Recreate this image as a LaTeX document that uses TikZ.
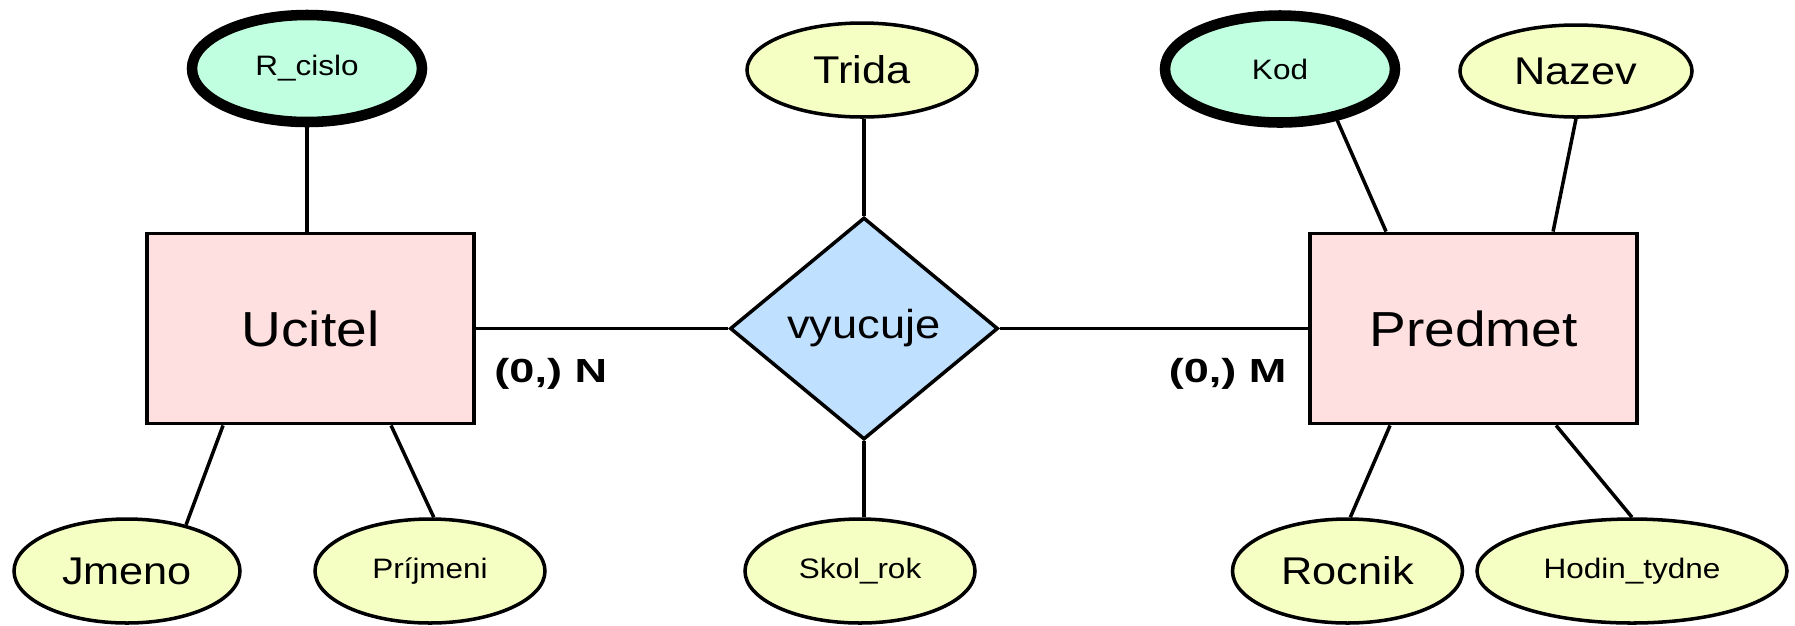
\documentclass[tikz,border=0pt]{standalone}
\usepackage{fontspec}
\setmainfont[FakeStretch=1.12]{Liberation Sans}
\newfontfamily\cardfont[FakeStretch=1.35]{Liberation Sans}
\usetikzlibrary{shapes.geometric}
\definecolor{entpink}{RGB}{255,224,224}
\definecolor{relblue}{RGB}{192,224,255}
\definecolor{attryellow}{RGB}{245,255,196}
\definecolor{keymint}{RGB}{192,255,224}

\begin{document}
\begin{tikzpicture}[
  line width=1pt,
  entity/.style={draw, fill=entpink, line width=1.1pt, minimum width=3.27cm,
    minimum height=1.9cm, font=\fontsize{14}{16}\selectfont},
  relation/.style={draw, diamond, fill=relblue, inner sep=0pt, minimum width=2.68cm,
    minimum height=2.22cm, font=\fontsize{11.5}{13}\selectfont},
  attr/.style={draw, ellipse, fill=attryellow, inner sep=0pt, minimum width=2.3cm,
    minimum height=1.04cm, font=\fontsize{11}{13}\selectfont},
  small/.style={font=\fontsize{8}{10}\selectfont},
  keyattr/.style={attr, small, fill=keymint, line width=3pt, minimum height=1.07cm},
  card/.style={font=\cardfont\bfseries\fontsize{9.5}{11}\selectfont}
]
  \useasboundingbox (0,0) rectangle (17.95,6.25);

  % entities and relationship
  \node[entity] (ucitel) at (3.105,2.965) {Ucitel};
  \node[entity] (predmet) at (14.735,2.965) {Predmet};
  \node[relation] (vyucuje) at (8.64,2.965) {vyucuje};

  % attributes, top row
  \node[keyattr] (rcislo) at (3.07,5.565) {R\_cislo};
  \node[attr, minimum height=0.94cm] (trida) at (8.62,5.55) {Trida};
  \node[keyattr] (kod) at (12.80,5.56) {Kod};
  \node[attr, minimum width=2.32cm, minimum height=0.92cm] (nazev) at (15.76,5.54) {Nazev};

  % attributes, bottom row
  \node[attr, minimum width=2.26cm] (jmeno) at (1.27,0.54) {Jmeno};
  \node[attr, small] (prijmeni) at (4.30,0.54) {Príjmeni};
  \node[attr, small] (skolrok) at (8.60,0.54) {Skol\_rok};
  \node[attr] (rocnik) at (13.475,0.54) {Rocnik};
  \node[attr, small, minimum width=3.1cm] (hodin) at (16.32,0.54) {Hodin\_tydne};

  % cardinalities
  \node[card, anchor=west] (cardn) at (4.81,2.51) {(0,) N};
  \node[card, anchor=east] (cardm) at (13.00,2.51) {(0,) M};

  % connectors
  \draw (ucitel) -- (vyucuje);
  \draw (vyucuje) -- (predmet);
  \draw (rcislo) -- (rcislo |- ucitel.north);
  \draw (vyucuje.north) -- (vyucuje.north |- trida.south);
  \draw (vyucuje.south) -- (vyucuje.south |- skolrok.north);
  \draw (jmeno.38) -- ([xshift=0.78cm]ucitel.south west);
  \draw (prijmeni.86) -- ([xshift=2.46cm]ucitel.south west);
  \draw (kod.-42) -- ([xshift=0.78cm]predmet.north west);
  \draw (nazev.south) -- ([xshift=2.45cm]predmet.north west);
  \draw (rocnik.87) -- ([xshift=0.82cm]predmet.south west);
  \draw (hodin.north) -- ([xshift=2.48cm]predmet.south west);
\end{tikzpicture}
\end{document}
